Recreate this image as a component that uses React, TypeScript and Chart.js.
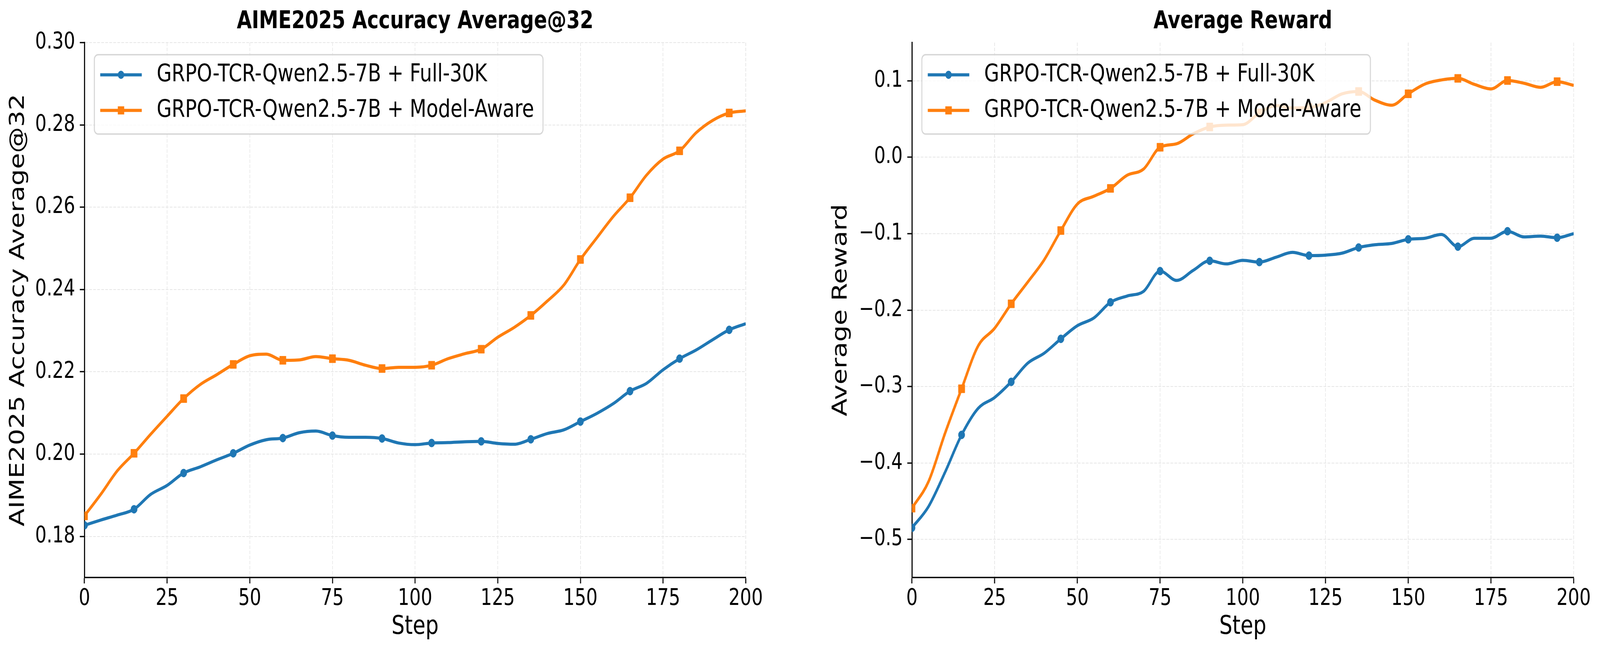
import React, { useEffect, useRef } from 'react';
import { Chart, registerables } from 'chart.js';

Chart.register(...registerables);
Chart.defaults.font.family = "'DejaVu Sans', sans-serif";
Chart.defaults.color = '#000';

// ---------- data ----------
const steps = [0, 5, 10, 15, 20, 25, 30, 35, 40, 45, 50, 55, 60, 65, 70, 75, 80, 85, 90, 95, 100,
  105, 110, 115, 120, 125, 130, 135, 140, 145, 150, 155, 160, 165, 170, 175, 180, 185, 190, 195, 200];
const markerSteps = [0, 15, 30, 45, 60, 75, 90, 105, 120, 135, 150, 165, 180, 195];
const xTicks = [0, 25, 50, 75, 100, 125, 150, 175, 200];
const aimeYTicks = [0.18, 0.2, 0.22, 0.24, 0.26, 0.28, 0.3];
const rewardYTicks = [-0.5, -0.4, -0.3, -0.2, -0.1, 0.0, 0.1];
const seriesLabels = ['GRPO-TCR-Qwen2.5-7B + Full-30K', 'GRPO-TCR-Qwen2.5-7B + Model-Aware'];
const chartTitles = ['AIME2025 Accuracy Average@32', 'Average Reward'];
const yTitles = ['AIME2025 Accuracy Average@32', 'Average Reward'];
const xTitle = 'Step';

const aimeFull = [0.1827, 0.1840, 0.1852, 0.1866, 0.1902, 0.1924, 0.1954, 0.1969, 0.1986, 0.2002, 0.2022,
  0.2035, 0.2039, 0.2052, 0.2056, 0.2045, 0.2041, 0.2041, 0.2038, 0.2027, 0.2023,
  0.2027, 0.2028, 0.2030, 0.2031, 0.2026, 0.2024, 0.2036, 0.2050, 0.2059, 0.2079,
  0.2099, 0.2123, 0.2153, 0.2172, 0.2205, 0.2232, 0.2253, 0.2278, 0.2302, 0.2317];
const aimeModelAware = [0.1850, 0.1903, 0.1960, 0.2002, 0.2048, 0.2092, 0.2135, 0.2169, 0.2193, 0.2218, 0.2239,
  0.2243, 0.2228, 0.2229, 0.2237, 0.2232, 0.2228, 0.2216, 0.2208, 0.2211, 0.2211,
  0.2216, 0.2232, 0.2244, 0.2255, 0.2284, 0.2308, 0.2337, 0.2372, 0.2411, 0.2473,
  0.2526, 0.2578, 0.2623, 0.2678, 0.2717, 0.2737, 0.2781, 0.2811, 0.2829, 0.2834];
const rewardFull = [-0.4849, -0.4571, -0.4122, -0.3633, -0.3286, -0.3143, -0.2939, -0.2694, -0.2563, -0.2376, -0.2204,
  -0.2102, -0.1898, -0.1816, -0.1755, -0.1490, -0.1612, -0.1480, -0.1355, -0.1396, -0.1349,
  -0.1372, -0.1309, -0.1245, -0.1287, -0.1281, -0.1255, -0.1181, -0.1145, -0.1128, -0.1074,
  -0.1060, -0.1011, -0.1170, -0.1060, -0.1060, -0.0968, -0.1043, -0.1032, -0.1053, -0.1000];
const rewardModelAware = [-0.4592, -0.4245, -0.3612, -0.3029, -0.2469, -0.2237, -0.1918, -0.1633, -0.1340, -0.0959, -0.0612,
  -0.0510, -0.0408, -0.0237, -0.0155, 0.0131, 0.0176, 0.0306, 0.0396, 0.0420, 0.0426,
  0.0580, 0.0675, 0.0645, 0.0650, 0.0715, 0.0830, 0.0860, 0.0745, 0.0681, 0.0830,
  0.0957, 0.1011, 0.1032, 0.0953, 0.0894, 0.1004, 0.0968, 0.0915, 0.0989, 0.0940];

const BLUE = '#1f77b4';
const ORANGE = '#ff7f0e';
const W = 5163;
const H = 1671;

// ---------- legend plugin (matplotlib style) ----------
function roundRectPath(ctx: CanvasRenderingContext2D, x: number, y: number, w: number, h: number, r: number) {
  ctx.beginPath();
  ctx.moveTo(x + r, y);
  ctx.lineTo(x + w - r, y);
  ctx.arcTo(x + w, y, x + w, y + r, r);
  ctx.lineTo(x + w, y + h - r);
  ctx.arcTo(x + w, y + h, x + w - r, y + h, r);
  ctx.lineTo(x + r, y + h);
  ctx.arcTo(x, y + h, x, y + h - r, r);
  ctx.lineTo(x, y + r);
  ctx.arcTo(x, y, x + r, y, r);
  ctx.closePath();
}

function drawMarker(ctx: CanvasRenderingContext2D, style: string, x: number, y: number, r: number, color: string) {
  ctx.fillStyle = color;
  ctx.beginPath();
  if (style === 'rect') {
    const s = r * Math.SQRT1_2;
    ctx.rect(x - s, y - s, 2 * s, 2 * s);
  } else {
    ctx.arc(x, y, r, 0, Math.PI * 2);
  }
  ctx.fill();
}

const mplLegend = {
  id: 'mplLegend',
  afterDraw(chart: any) {
    const { ctx, chartArea } = chart;
    const ds = chart.data.datasets;
    ctx.save();
    const fontSize = 62.5;
    ctx.font = `${fontSize}px 'DejaVu Sans', sans-serif`;
    const maxW = Math.max(...ds.map((d: any) => ctx.measureText(d.label).width));
    const fx = chartArea.left + 32;
    const fy = chartArea.top + 31;
    const textX = fx + 201;
    const fw = textX + maxW + 29 - fx;
    const fh = 203;
    roundRectPath(ctx, fx, fy, fw, fh, 12);
    ctx.fillStyle = 'rgba(255,255,255,0.8)';
    ctx.fill();
    ctx.lineWidth = 3.3;
    ctx.strokeStyle = 'rgba(204,204,204,0.8)';
    ctx.stroke();
    ds.forEach((d: any, i: number) => {
      const y = fy + 51.5 + i * 91;
      ctx.strokeStyle = d.borderColor;
      ctx.lineWidth = d.borderWidth;
      ctx.lineCap = 'butt';
      ctx.beginPath();
      ctx.moveTo(fx + 19, y);
      ctx.lineTo(fx + 153, y);
      ctx.stroke();
      drawMarker(ctx, d.pointStyle, fx + 86, y, d.markerRadius, d.borderColor);
      ctx.fillStyle = '#000';
      ctx.textAlign = 'left';
      ctx.textBaseline = 'middle';
      ctx.fillText(d.label, textX, y);
    });
    ctx.restore();
  },
};

// ---------- config builder ----------
function makeDataset(label: string, values: number[], color: string, style: string, radius: number, order: number) {
  return {
    label,
    order,
    data: steps.map((s, i) => ({ x: s, y: values[i] })),
    borderColor: color,
    backgroundColor: color,
    borderWidth: 8,
    pointStyle: style,
    markerRadius: radius,
    pointRadius: (c: any) => (c.raw && markerSteps.includes(c.raw.x) ? radius : 0),
    pointHoverRadius: 0,
    pointBackgroundColor: color,
    pointBorderColor: color,
    pointBorderWidth: 1,
    cubicInterpolationMode: 'monotone',
    fill: false,
    clip: 0,
  };
}

function makeConfig(opts: {
  title: string; yTitle: string; full: number[]; aware: number[];
  yMin: number; yMax: number; yTicks: number[]; fmt: (v: number) => string;
  yWidth: number; yTitlePad: number; padRight: number;
}) {
  const gridCommon = {
    color: '#e6e6e6',
    lineWidth: 2,
    drawTicks: true,
    tickLength: 15,
    tickWidth: 3.3,
    tickColor: '#000',
    tickBorderDash: [],
  };
  const borderCommon = { display: true, color: '#000', width: 3.5, dash: [9, 4] };
  return {
    type: 'line',
    data: {
      datasets: [
        makeDataset(seriesLabels[0], opts.full, BLUE, 'circle', 10.4, 2),
        makeDataset(seriesLabels[1], opts.aware, ORANGE, 'rect', 14.7, 1),
      ],
    },
    options: {
      responsive: false,
      animation: false,
      devicePixelRatio: 1,
      layout: { padding: { left: 0, top: 0, bottom: 0, right: opts.padRight } },
      plugins: {
        legend: { display: false },
        tooltip: { enabled: false },
        title: {
          display: true,
          text: opts.title,
          fullSize: false,
          color: '#000',
          font: { size: 62.5, weight: 'bold', lineHeight: 1.2 },
          padding: { top: 18, bottom: 16 },
        },
      },
      scales: {
        x: {
          type: 'linear',
          min: 0,
          max: 200,
          afterBuildTicks: (s: any) => { s.ticks = xTicks.map((v) => ({ value: v })); },
          afterFit: (s: any) => { s.height = H - 1478; s.paddingLeft = 0; s.paddingRight = 0; },
          grid: gridCommon,
          border: borderCommon,
          ticks: { font: { size: 58 }, padding: 5, color: '#000', maxRotation: 0, autoSkip: false,
            callback: (v: any) => String(v) },
          title: { display: true, text: xTitle, color: '#000', font: { size: 66.7 }, padding: { top: 0, bottom: 26 } },
        },
        y: {
          type: 'linear',
          min: opts.yMin,
          max: opts.yMax,
          afterBuildTicks: (s: any) => { s.ticks = opts.yTicks.map((v) => ({ value: v })); },
          afterFit: (s: any) => { s.width = opts.yWidth; s.paddingTop = 0; s.paddingBottom = 0; },
          grid: gridCommon,
          border: borderCommon,
          ticks: { font: { size: 58 }, padding: 15, color: '#000', autoSkip: false,
            callback: (v: any) => opts.fmt(Number(v)) },
          title: { display: true, text: opts.yTitle, color: '#000', font: { size: 66.7 }, padding: { top: opts.yTitlePad, bottom: 0 } },
        },
      },
    },
    plugins: [mplLegend],
  };
}

function ChartCanvas({ config, left, width, kx, ky }: { config: any; left: number; width: number; kx: number; ky: number }) {
  const ref = useRef<HTMLCanvasElement>(null);
  useEffect(() => {
    if (!ref.current) return;
    const chart = new Chart(ref.current, config);
    return () => chart.destroy();
  }, []);
  return (
    <canvas
      ref={ref}
      width={width}
      height={H}
      style={{ position: 'absolute', left: left * kx, top: 0, width: width * kx, height: H * ky, display: 'block' }}
    />
  );
}

const fmt2 = (v: number) => v.toFixed(2);
const fmt1 = (v: number) => v.toFixed(1).replace('-', '\u2212');

export default function App() {
  // The browser viewport may be narrower than the 5163x1671 target; map the design onto it.
  const vw = typeof window !== 'undefined' ? Math.min(window.innerWidth, W) : W;
  const vh = typeof window !== 'undefined' ? Math.min(window.innerHeight, H) : H;
  const kx = vw / W;
  const ky = vh / H;
  const leftConfig = makeConfig({
    title: chartTitles[0], yTitle: yTitles[0], full: aimeFull, aware: aimeModelAware,
    yMin: 0.17, yMax: 0.30, yTicks: aimeYTicks, fmt: fmt2, yWidth: 272.4, yTitlePad: 20, padRight: 194,
  });
  const rightConfig = makeConfig({
    title: chartTitles[1], yTitle: yTitles[1], full: rewardFull, aware: rewardModelAware,
    yMin: -0.55, yMax: 0.15, yTicks: rewardYTicks, fmt: fmt1, yWidth: 342.4, yTitlePad: 74, padRight: 85,
  });
  return (
    <div style={{ position: 'fixed', left: 0, top: 0, width: vw, height: vh, background: '#fff', overflow: 'hidden' }}>
      <ChartCanvas config={leftConfig} left={0} width={2600} kx={kx} ky={ky} />
      <ChartCanvas config={rightConfig} left={2600} width={2563} kx={kx} ky={ky} />
    </div>
  );
}
